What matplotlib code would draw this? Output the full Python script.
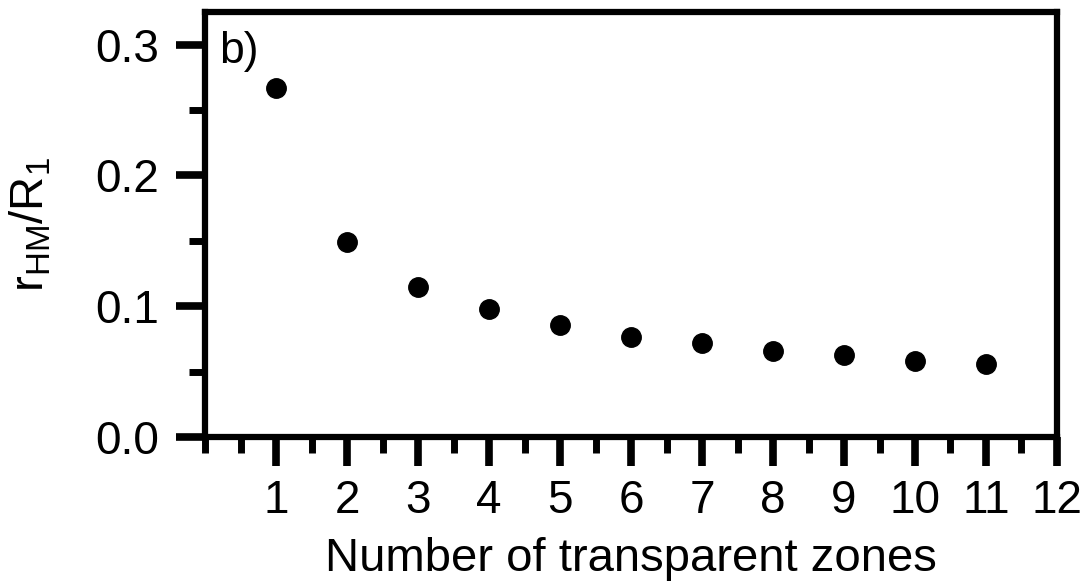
import matplotlib
matplotlib.use("Agg")
import matplotlib.pyplot as plt
from matplotlib.ticker import MultipleLocator

# data
zones = [1, 2, 3, 4, 5, 6, 7, 8, 9, 10, 11]
r_ratio = [0.267, 0.149, 0.115, 0.0975, 0.0853, 0.0764, 0.0715, 0.066, 0.0625, 0.058, 0.0556]
x_ticks = list(range(1, 13))
y_ticks = [0.0, 0.1, 0.2, 0.3]

plt.rcParams['font.family'] = ['Liberation Sans', 'DejaVu Sans']
plt.rcParams['mathtext.fontset'] = 'custom'
plt.rcParams['mathtext.rm'] = 'Liberation Sans'

fig = plt.figure(figsize=(10.87, 5.84), dpi=100)
ax = fig.add_axes([0.1886, 0.2517, 0.9724 - 0.1886, 0.9795 - 0.2517])

ax.plot(zones, r_ratio, linestyle='none', marker='o', markersize=14, color='black')

ax.set_xlim(0, 12)
ax.set_ylim(0, 0.325)
ax.set_xticks(x_ticks)
ax.set_yticks(y_ticks)
ax.set_yticklabels(['%.1f' % v for v in y_ticks])
ax.xaxis.set_minor_locator(MultipleLocator(0.5))
ax.yaxis.set_minor_locator(MultipleLocator(0.05))

for s in ax.spines.values():
    s.set_linewidth(4.5)
ax.tick_params(which='major', direction='out', length=21, width=5.5, labelsize=33)
ax.tick_params(axis='x', which='major', pad=9)
ax.tick_params(axis='y', which='major', pad=12)
ax.tick_params(which='minor', direction='out', length=11.5, width=5)

ax.set_xlabel('Number of transparent zones', fontsize=34, labelpad=10)
ax.set_ylabel(r'r$_{\mathregular{HM}}$/R$_{\mathregular{1}}$', fontsize=34, labelpad=30)
ax.text(0.016, 0.955, 'b)', transform=ax.transAxes, fontsize=32, va='top', ha='left')

fig.savefig('out.png', dpi=100)
